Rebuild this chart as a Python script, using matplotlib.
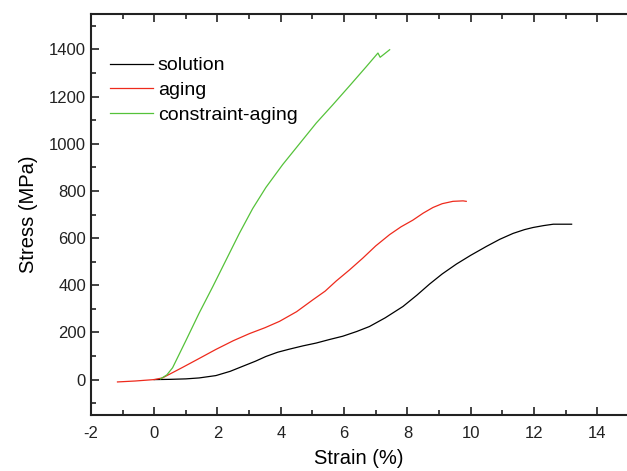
import numpy as np
import matplotlib.pyplot as plt
from matplotlib.ticker import MultipleLocator

plt.rcParams['font.family'] = ['Liberation Sans', 'DejaVu Sans']
plt.rcParams['axes.unicode_minus'] = False

# stress-strain curves (strain %, stress MPa)
solution_x = [0.0, 0.5, 1.0, 1.42, 1.95, 2.4, 2.79, 3.2, 3.53, 3.9, 4.27, 4.7,
              5.12, 5.54, 5.96, 6.4, 6.8, 7.3, 7.86, 8.3, 8.7, 9.1, 9.55, 10.0,
              10.5, 10.92, 11.34, 11.7, 11.97, 12.3, 12.61, 13.19]
solution_y = [0, 1, 3, 7, 17, 35, 56, 78, 98, 116, 129, 143,
              155, 170, 184, 204, 225, 262, 310, 358, 405, 448, 490, 527,
              565, 595, 620, 636, 645, 653, 659, 659]

aging_x = [-1.16, -0.6, 0.0, 0.26, 0.9, 1.4, 1.95, 2.5, 3.01, 3.5, 3.96, 4.5,
           5.01, 5.4, 5.75, 6.17, 6.59, 7.0, 7.44, 7.8, 8.17, 8.5, 8.81, 9.1,
           9.44, 9.76, 9.86]
aging_y = [-10, -6, 0, 7, 52, 88, 128, 165, 195, 220, 247, 288,
           338, 375, 418, 465, 515, 567, 615, 648, 676, 706, 730, 746,
           756, 758, 756]

constraint_x = [0.2, 0.4, 0.58, 1.0, 1.42, 1.85, 2.27, 2.69, 3.11, 3.53, 4.06,
                4.59, 5.12, 5.64, 6.2, 6.7, 7.07, 7.14, 7.44]
constraint_y = [3, 20, 50, 165, 282, 394, 507, 620, 725, 815, 912,
                1000, 1088, 1165, 1250, 1327, 1385, 1367, 1399]

fig = plt.figure(figsize=(6.27, 4.71), dpi=100)
ax = fig.add_axes([0.145, 0.119, 0.855, 0.851])

ax.plot(solution_x, solution_y, color='black', lw=0.9, label='solution')
ax.plot(aging_x, aging_y, color='#ee2a1c', lw=0.9, label='aging')
ax.plot(constraint_x, constraint_y, color='#55c23a', lw=0.9, label='constraint-aging')

ax.set_xlim(-2, 14.94)
ax.set_ylim(-150, 1550)
ax.set_xticks(np.arange(-2, 15, 2))
ax.set_yticks(np.arange(0, 1401, 200))
ax.xaxis.set_minor_locator(MultipleLocator(1))
ax.yaxis.set_minor_locator(MultipleLocator(100))
ax.tick_params(which='both', direction='in', top=True, right=False, width=1.2,
               labelsize=12, colors='#222222')
ax.tick_params(which='major', length=6)
ax.tick_params(which='minor', length=3.5)
ax.tick_params(axis='x', pad=8)
ax.spines['right'].set_visible(False)
for s in ['left', 'bottom', 'top']:
    ax.spines[s].set_linewidth(1.5)
    ax.spines[s].set_color('#222222')

ax.set_xlabel('Strain (%)', fontsize=14.5, labelpad=6)
ax.set_ylabel('Stress (MPa)', fontsize=14.5, labelpad=8)

leg = ax.legend(loc='upper left', bbox_to_anchor=(0.021, 0.913), frameon=False,
                fontsize=14, handlelength=2.2, handletextpad=0.26,
                labelspacing=0.37, borderaxespad=0)

fig.savefig('out.png', dpi=100)
